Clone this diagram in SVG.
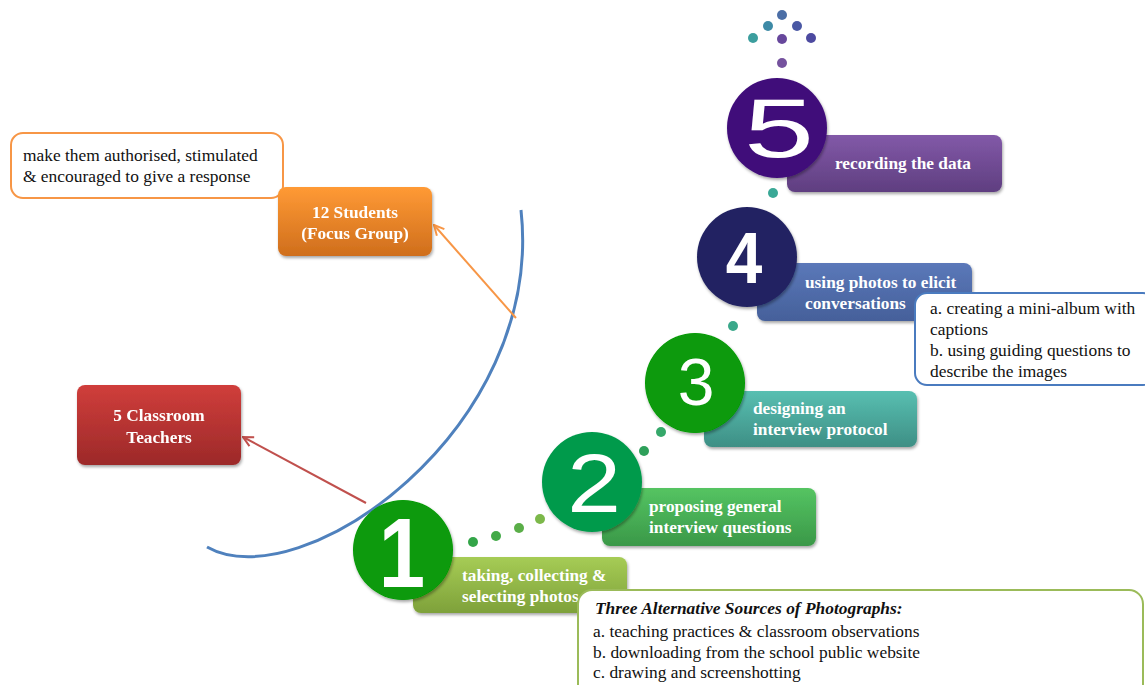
<svg xmlns="http://www.w3.org/2000/svg" width="1145" height="685" viewBox="0 0 1145 685">
<defs>
<style>
.lbl{font-family:"Liberation Serif","Times New Roman",serif;font-weight:bold;font-size:17.3px;fill:#fff}
.note{font-family:"Liberation Serif","Times New Roman",serif;font-size:17.4px;fill:#111}
.num{font-family:"Liberation Sans",Arial,sans-serif;fill:#fff}
.dot{stroke:none}
</style>
<filter id="sh" x="-10%" y="-10%" width="130%" height="140%"><feDropShadow dx="1" dy="2" stdDeviation="1.8" flood-color="#000" flood-opacity="0.35"/></filter>
<linearGradient id="g1" x1="0" y1="0" x2="0" y2="1"><stop offset="0" stop-color="#a6cc55"/><stop offset="1" stop-color="#7ea13a"/></linearGradient>
<linearGradient id="g2" x1="0" y1="0" x2="0" y2="1"><stop offset="0" stop-color="#55c462"/><stop offset="1" stop-color="#3a9848"/></linearGradient>
<linearGradient id="g3" x1="0" y1="0" x2="0" y2="1"><stop offset="0" stop-color="#58bfb1"/><stop offset="1" stop-color="#3e8f85"/></linearGradient>
<linearGradient id="g4" x1="0" y1="0" x2="0" y2="1"><stop offset="0" stop-color="#5b78b9"/><stop offset="1" stop-color="#45609a"/></linearGradient>
<linearGradient id="g5" x1="0" y1="0" x2="0" y2="1"><stop offset="0" stop-color="#8259a8"/><stop offset="1" stop-color="#5f3e80"/></linearGradient>
<linearGradient id="gO" x1="0" y1="0" x2="0" y2="1"><stop offset="0" stop-color="#ff9a35"/><stop offset="1" stop-color="#cf6e1c"/></linearGradient>
<linearGradient id="gR" x1="0" y1="0" x2="0" y2="1"><stop offset="0" stop-color="#d03e3b"/><stop offset="1" stop-color="#9c2929"/></linearGradient>
<marker id="aO" viewBox="0 0 12 12" refX="11" refY="6" markerWidth="12" markerHeight="12" markerUnits="userSpaceOnUse" orient="auto"><path d="M1,1 L11,6 L1,11" fill="none" stroke="#f79646" stroke-width="2"/></marker>
<marker id="aR" viewBox="0 0 12 12" refX="11" refY="6" markerWidth="12" markerHeight="12" markerUnits="userSpaceOnUse" orient="auto"><path d="M1,1 L11,6 L1,11" fill="none" stroke="#c0504d" stroke-width="2"/></marker>
</defs>
<rect width="1145" height="685" fill="#fff"/>

<g id="connectors">
<path d="M207,547 C300,600 545,430 521,210" fill="none" stroke="#4f81bd" stroke-width="3"/>
<line x1="516" y1="318" x2="434" y2="225" stroke="#f79646" stroke-width="2" marker-end="url(#aO)"/>
<line x1="366" y1="503" x2="243" y2="437" stroke="#c0504d" stroke-width="2" marker-end="url(#aR)"/>
<g id="dots">
<circle class="dot" cx="782" cy="15" r="5" fill="#4b6ea6"/>
<circle class="dot" cx="768" cy="26" r="5" fill="#3d8aa6"/>
<circle class="dot" cx="797" cy="26" r="5" fill="#4a58a4"/>
<circle class="dot" cx="753" cy="38" r="5" fill="#3c9e9e"/>
<circle class="dot" cx="782" cy="39" r="5" fill="#67479c"/>
<circle class="dot" cx="811" cy="38" r="5" fill="#4d4aa0"/>
<circle class="dot" cx="782" cy="63" r="5" fill="#75529e"/>
<circle class="dot" cx="773" cy="193" r="5" fill="#3aa896"/>
<circle class="dot" cx="733" cy="326" r="5" fill="#3aa88a"/>
<circle class="dot" cx="661" cy="432" r="5" fill="#35a86a"/>
<circle class="dot" cx="644" cy="451" r="5" fill="#2ea05a"/>
<circle class="dot" cx="473" cy="542" r="5" fill="#33a548"/>
<circle class="dot" cx="496" cy="536" r="5" fill="#43aa48"/>
<circle class="dot" cx="519" cy="528" r="5" fill="#5aae48"/>
<circle class="dot" cx="540" cy="519" r="5" fill="#7cb84a"/>
</g>
</g>

<g id="note-top">
<rect x="11" y="133" width="272" height="65" rx="12" fill="#fff" stroke="#f79646" stroke-width="2"/>
<text class="note" x="23" y="161">make them authorised, stimulated</text>
<text class="note" x="23" y="182">&amp; encouraged to give a response</text>
</g>

<g id="students" filter="url(#sh)">
<rect x="278" y="187" width="154" height="69" rx="8" fill="url(#gO)"/>
<text class="lbl" x="355" y="218" text-anchor="middle">12 Students</text>
<text class="lbl" x="355" y="239" text-anchor="middle">(Focus Group)</text>
</g>

<g id="teachers" filter="url(#sh)">
<rect x="77" y="385" width="164" height="80" rx="8" fill="url(#gR)"/>
<text class="lbl" x="159" y="421" text-anchor="middle">5 Classroom</text>
<text class="lbl" x="159" y="443" text-anchor="middle">Teachers</text>
</g>

<g id="step5">
<rect x="787" y="135" width="215" height="57" rx="8" fill="url(#g5)" filter="url(#sh)"/>
<circle cx="777" cy="128" r="50" fill="#3f0a7a" filter="url(#sh)"/>
<text class="num" x="0" y="0" font-size="84" text-anchor="middle" transform="translate(779,157) scale(1.5,1)">5</text>
<text class="lbl" x="835" y="169">recording the data</text>
</g>

<g id="step4">
<rect x="757" y="263" width="215" height="58" rx="8" fill="url(#g4)" filter="url(#sh)"/>
<circle cx="747" cy="257" r="50" fill="#222462" filter="url(#sh)"/>
<text class="num" x="0" y="0" font-size="73" font-weight="bold" text-anchor="middle" transform="translate(744,283) scale(0.9,1)">4</text>
<text class="lbl" x="805" y="288">using photos to elicit</text>
<text class="lbl" x="805" y="309">conversations</text>
</g>

<g id="step3">
<rect x="704" y="391" width="213" height="56" rx="8" fill="url(#g3)" filter="url(#sh)"/>
<circle cx="695" cy="383" r="50" fill="#079a07" filter="url(#sh)"/>
<text class="num" x="696" y="405" font-size="66" text-anchor="middle">3</text>
<text class="lbl" x="753" y="414">designing an</text>
<text class="lbl" x="753" y="435">interview protocol</text>
</g>

<g id="step2">
<rect x="602" y="488" width="214" height="58" rx="8" fill="url(#g2)" filter="url(#sh)"/>
<circle cx="592" cy="482" r="50" fill="#009a4c" filter="url(#sh)"/>
<text class="num" x="0" y="0" font-size="84" text-anchor="middle" transform="translate(594,512) scale(1.15,1)">2</text>
<text class="lbl" x="649" y="512">proposing general</text>
<text class="lbl" x="649" y="533">interview questions</text>
</g>

<g id="step1">
<rect x="413" y="557" width="214" height="56" rx="8" fill="url(#g1)" filter="url(#sh)"/>
<circle cx="403" cy="550" r="50" fill="#079a07" filter="url(#sh)"/>
<text class="num" x="0" y="0" font-size="98" font-weight="bold" text-anchor="middle" transform="translate(402,587) scale(0.85,1)">1</text>
<text class="lbl" x="462" y="581">taking, collecting &amp;</text>
<text class="lbl" x="462" y="602">selecting photos</text>
</g>

<g id="note-step4">
<rect x="915" y="293" width="240" height="92" rx="12" fill="#fff" stroke="#4a7bbf" stroke-width="2"/>
<text class="note" x="930" y="314">a. creating a mini-album with</text>
<text class="note" x="930" y="335">captions</text>
<text class="note" x="930" y="356">b. using guiding questions to</text>
<text class="note" x="930" y="377">describe the images</text>
</g>

<g id="note-step1">
<rect x="578" y="590" width="565" height="110" rx="14" fill="#fff" stroke="#9bbb59" stroke-width="2"/>
<text class="note" x="595" y="614" font-style="italic" font-weight="bold">Three Alternative Sources of Photographs:</text>
<text class="note" x="593" y="637">a. teaching practices &amp; classroom observations</text>
<text class="note" x="593" y="658">b. downloading from the school public website</text>
<text class="note" x="593" y="678">c. drawing and screenshotting</text>
</g>
</svg>
